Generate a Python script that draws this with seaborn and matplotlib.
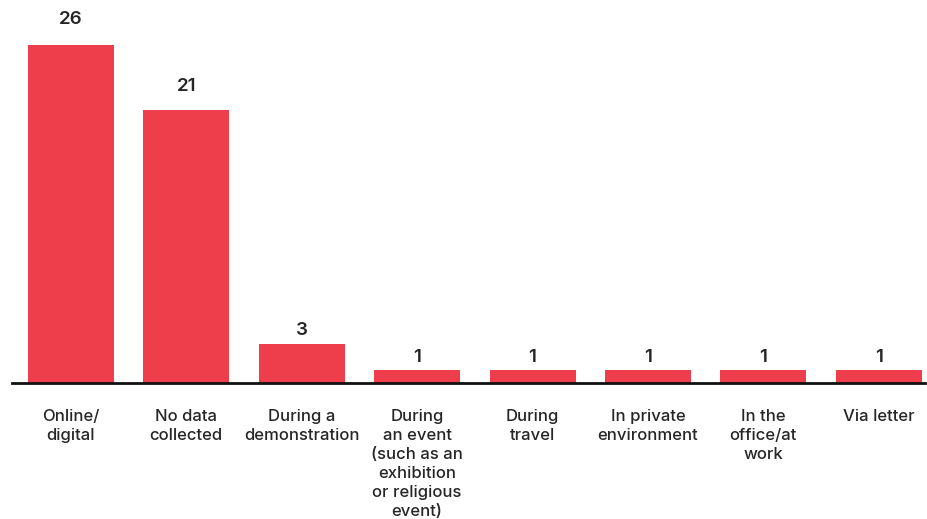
import matplotlib
matplotlib.use("Agg")
import matplotlib.pyplot as plt
import seaborn as sns
import pandas as pd

categories = [
    "Online/\ndigital",
    "No data\ncollected",
    "During a\ndemonstration",
    "During\nan event\n(such as an\nexhibition\nor religious\nevent)",
    "During\ntravel",
    "In private\nenvironment",
    "In the\noffice/at\nwork",
    "Via letter",
]
counts = [26, 21, 3, 1, 1, 1, 1, 1]

BAR_COLOR = "#EE3D4B"
TEXT_COLOR = "#262626"

sns.set_theme(style="white")
plt.rcParams["font.family"] = ["Inter", "DejaVu Sans"]

df = pd.DataFrame({"category": categories, "count": counts})

fig = plt.figure(figsize=(9.27, 5.19), dpi=100)
ax = fig.add_axes([12 / 927, (519 - 383) / 519, (925 - 12) / 927, (383 - 6) / 519])

sns.barplot(data=df, x="category", y="count", color=BAR_COLOR, width=0.745,
            saturation=1, linewidth=0, ax=ax)

for i, v in enumerate(counts):
    ax.text(i, v * 1.04 + 0.3, str(v), ha="center", va="bottom",
            fontsize=13.5, fontweight="semibold", color=TEXT_COLOR)

ax.set_xlim(-0.51, 7.40)
ax.set_ylim(0, 29)
ax.set_xlabel("")
ax.set_ylabel("")
ax.set_yticks([])
for side in ("top", "right", "left"):
    ax.spines[side].set_visible(False)
ax.spines["bottom"].set_color("#111111")
ax.spines["bottom"].set_linewidth(2)
ax.tick_params(axis="x", length=0, pad=19)
for lbl in ax.get_xticklabels():
    lbl.set_fontsize(12)
    lbl.set_fontweight("medium")
    lbl.set_color(TEXT_COLOR)
    lbl.set_linespacing(1.33)
    lbl.set_verticalalignment("top")

fig.savefig("out.png", dpi=100)
